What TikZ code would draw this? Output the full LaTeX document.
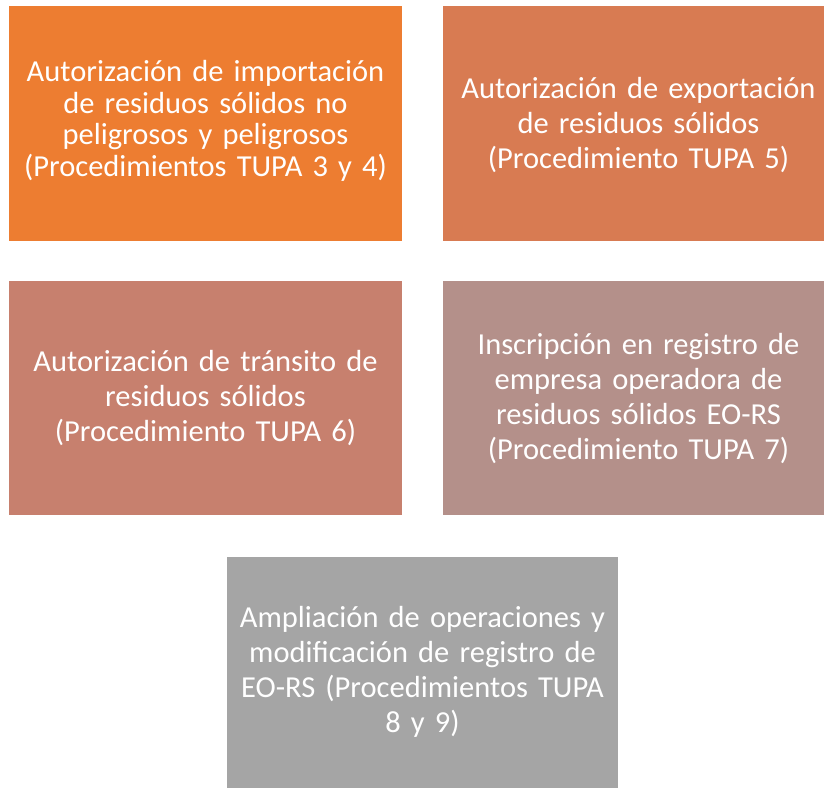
\documentclass[tikz,border=0pt]{standalone}
\usepackage{fontspec}
\setmainfont{Carlito}
\definecolor{cA}{HTML}{ED7D31}
\definecolor{cB}{HTML}{D87B52}
\definecolor{cC}{HTML}{C7806E}
\definecolor{cD}{HTML}{B4908A}
\definecolor{cE}{HTML}{A5A5A5}
\tikzset{
  boxtxt/.style={text=white, align=center, text width=390pt, font=\fontsize{30.5}{35}\selectfont, inner sep=0pt},
  tighttxt/.style={boxtxt, font=\fontsize{30.5}{31.5}\selectfont},
}
\begin{document}
\begin{tikzpicture}[x=1pt,y=1pt]
\useasboundingbox (0,0) rectangle (824,-787);
\clip (0,0) rectangle (824,-787);
\fill[cA] (9,-6) rectangle (402,-241);
\fill[cB] (443,-6) rectangle (834,-241);
\fill[cC] (9,-281) rectangle (402,-515);
\fill[cD] (443,-281) rectangle (834,-515);
\fill[cE] (227,-557) rectangle (618,-792);
\node[tighttxt] (a) at (205.5,-121) {Autorización de importación\\de residuos sólidos no\\peligrosos y peligrosos\\(Procedimientos TUPA 3 y 4)};
\node[boxtxt] (b) at (638.5,-125) {Autorización de exportación\\de residuos sólidos\\(Procedimiento TUPA 5)};
\node[boxtxt] (c) at (205.5,-398) {Autorización de tránsito de\\residuos sólidos\\(Procedimiento TUPA 6)};
\node[boxtxt] (d) at (638.5,-399) {Inscripción en registro de\\empresa operadora de\\residuos sólidos EO-RS\\(Procedimiento TUPA 7)};
\node[boxtxt] (e) at (422.5,-672) {Ampliación de operaciones y\\modificación de registro de\\EO-RS (Procedimientos TUPA\\8 y 9)};
\end{tikzpicture}
\end{document}
